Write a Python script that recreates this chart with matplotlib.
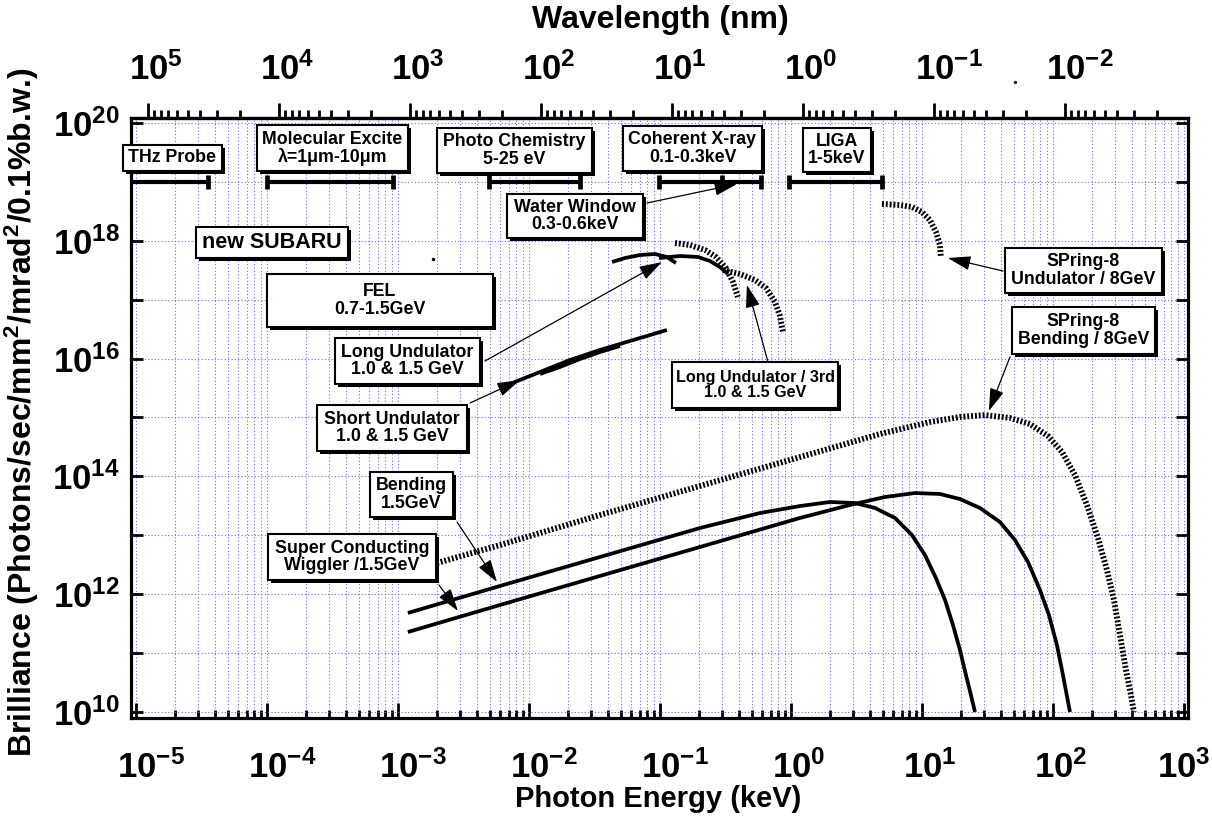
import matplotlib
matplotlib.use('Agg')
import matplotlib.pyplot as plt
from matplotlib.patches import Rectangle
from matplotlib.ticker import FixedLocator, NullLocator, NullFormatter, LogLocator
from matplotlib.transforms import ScaledTranslation

plt.rcParams['font.family'] = ['Liberation Sans', 'DejaVu Sans']
plt.rcParams['font.weight'] = 'bold'
plt.rcParams['mathtext.fontset'] = 'custom'
plt.rcParams['mathtext.rm'] = 'Liberation Sans:bold'
plt.rcParams['mathtext.bf'] = 'Liberation Sans:bold'
plt.rcParams['mathtext.it'] = 'Liberation Sans:bold'
plt.rcParams['mathtext.sf'] = 'Liberation Sans:bold'
plt.rcParams['mathtext.default'] = 'rm'

# ---------------- data (photon energy keV, brilliance) ----------------
bend_E = [1.19e-3, 6.01e-3, 3.48e-2, 0.202, 0.580, 1.172, 1.99, 3.08, 4.38, 6.22, 8.39,
          10.54, 12.79, 15.0, 17.25, 19.5, 21.67, 23.66, 25.4]
bend_B = [4.8e11, 1.38e12, 4.28e12, 1.33e13, 2.39e13, 3.14e13, 3.68e13, 3.53e13, 2.91e13,
          1.97e13, 1.01e13, 4.63e12, 1.88e12, 7.98e11, 3.0e11, 1.13e11, 4.25e10, 1.94e10, 1.0e10]

wig_E = [1.19e-3, 6.01e-3, 3.48e-2, 0.202, 1.172, 2.82, 5.22, 8.85, 13.71, 19.5, 27.7, 39.4,
         51.3, 64.5, 79.6, 93.2, 107.3, 119.2, 134.9]
wig_B = [2.28e11, 6.56e11, 2.04e12, 6.33e12, 1.97e13, 3.27e13, 4.47e13, 5.22e13, 5.03e13,
         4.13e13, 2.91e13, 1.68e13, 8.32e12, 3.52e12, 1.18e12, 4.44e11, 1.37e11, 4.25e10, 1.0e10]

sp8b_E = [1.985e-3, 6.01e-3, 3.48e-2, 0.2018, 1.172, 4.78, 11.51, 19.5, 30.3, 46.97, 66.7,
          91.6, 117.2, 147.2, 181.7, 220.5, 258.4, 292.2, 324.7, 360.8, 393.9, 415]
sp8b_B = [3.39e12, 6.84e12, 2.21e13, 6.87e13, 2.13e14, 5.25e14, 8.39e14, 1.02e15, 1.10e15,
          9.81e14, 7.76e14, 4.85e14, 2.60e14, 1.06e14, 3.27e13, 9.0e12, 2.58e12, 7.98e11,
          2.03e11, 5.17e10, 1.94e10, 1.0e10]

sp8u_E = [4.95, 6.79, 8.39, 10.0, 11.51, 12.79, 13.71, 13.96]
sp8u_B = [4.22e18, 4.05e18, 3.75e18, 3.08e18, 2.25e18, 1.41e18, 8.49e17, 5.31e17]

lu1_E = [4.31e-2, 5.40e-2, 7.04e-2, 9.16e-2, 0.1129, 0.1325]
lu1_B = [4.37e17, 5.10e17, 5.74e17, 5.97e17, 5.31e17, 4.20e17]
lu2_E = [9.83e-2, 0.1422, 0.195, 0.2408, 0.2871, 0.3305]
lu2_B = [5.10e17, 5.52e17, 5.31e17, 4.54e17, 3.59e17, 2.73e17]

lu3a_E = [0.1303, 0.1694, 0.2206, 0.2677, 0.319, 0.3606, 0.3934]
lu3a_B = [9.18e17, 8.49e17, 6.98e17, 5.31e17, 3.45e17, 2.0e17, 1.11e17]
lu3b_E = [0.3027, 0.408, 0.531, 0.6445, 0.755, 0.824, 0.869]
lu3b_B = [3.19e17, 2.73e17, 2.16e17, 1.58e17, 9.14e16, 5.29e16, 2.83e16]

sua_E = [7.16e-3, 1.213e-2, 2.056e-2, 3.48e-2, 5.90e-2, 0.1129]
sua_B = [3.71e15, 5.92e15, 9.47e15, 1.40e16, 1.99e16, 3.06e16]
sub_E = [1.213e-2, 1.726e-2, 2.449e-2, 3.48e-2, 4.95e-2]
sub_B = [5.48e15, 7.20e15, 9.85e15, 1.29e16, 1.64e16]

# application ranges (keV) drawn at one brilliance level
range_level = 1e19
thz_range = [9.0e-6, 3.55e-5]
mol_range = [1.0e-4, 9.2e-4]
chem_range = [4.95e-3, 2.45e-2]
cxr_range = [9.8e-2, 0.30, 0.59]
liga_range = [0.97, 4.95]

dot_E = [1.85e-3]
dot_B = [4.9e17]

energy_ticks = [1e-5, 1e-4, 1e-3, 1e-2, 1e-1, 1e0, 1e1, 1e2, 1e3]
energy_labels = ['$10^{-5}$', '$10^{-4}$', '$10^{-3}$', '$10^{-2}$', '$10^{-1}$',
                 '$10^{0}$', '$10^{1}$', '$10^{2}$', '$10^{3}$']
wl_ticks = [1e5, 1e4, 1e3, 1e2, 1e1, 1e0, 1e-1, 1e-2]
wl_labels = ['$10^{5}$', '$10^{4}$', '$10^{3}$', '$10^{2}$', '$10^{1}$',
             '$10^{0}$', '$10^{-1}$', '$10^{-2}$']
bril_ticks = [1e10, 1e11, 1e12, 1e13, 1e14, 1e15, 1e16, 1e17, 1e18, 1e19, 1e20]
bril_labels = ['$10^{10}$', '', '$10^{12}$', '', '$10^{14}$', '', '$10^{16}$', '',
               '$10^{18}$', '', '$10^{20}$']

HC = 1.2398  # keV*nm

# ---------------- figure ----------------
W, H = 1212, 816
fig = plt.figure(figsize=(W / 100, H / 100), dpi=100)
AX_L, AX_R, AX_T, AX_B = 131, 1188, 118, 718
ax = fig.add_axes([AX_L / W, 1 - AX_B / H, (AX_R - AX_L) / W, (AX_B - AX_T) / H])
ax.set_xscale('log')
ax.set_yscale('log')
ax.set_xlim(10 ** -5.038, 10 ** 3.031)
ax.set_ylim(10 ** 9.898, 10 ** 20.085)

def fx(px):
    return (px - AX_L) / (AX_R - AX_L)

def fy(py):
    return (AX_B - py) / (AX_B - AX_T)

gridc = (0.42, 0.42, 1.0)
ax.xaxis.set_major_locator(FixedLocator(energy_ticks))
ax.set_xticklabels(energy_labels)
ax.xaxis.set_minor_locator(LogLocator(base=10, subs=[2, 3, 4, 5, 6, 7, 8, 9], numticks=30))
ax.xaxis.set_minor_formatter(NullFormatter())
ax.yaxis.set_major_locator(FixedLocator(bril_ticks))
ax.set_yticklabels(bril_labels)
ax.yaxis.set_minor_locator(NullLocator())
ax.grid(which='major', axis='both', color=gridc, linestyle=(0, (1, 2)), linewidth=0.8)
ax.grid(which='minor', axis='x', color=gridc, linestyle=(0, (1, 2)), linewidth=0.8)
ax.set_axisbelow(True)

ax.tick_params(axis='x', which='major', direction='in', length=10.5, width=2.0,
               top=False, bottom=True, labelsize=25, pad=23)
ax.tick_params(axis='x', which='minor', direction='in', length=5.5, width=2.0,
               top=False, bottom=True)
ax.tick_params(axis='y', which='major', direction='in', length=8.5, width=2.0,
               left=True, right=True, labelsize=25, pad=8)
for s in ax.spines.values():
    s.set_linewidth(2.3)

# tick labels: the "10" is centred on the tick, the exponent hangs to the right
half_ten = ScaledTranslation(-0.193, 0, fig.dpi_scale_trans)
xlabs = ax.get_xticklabels()
for lab in xlabs[:-1]:
    lab.set_horizontalalignment('left')
    lab.set_transform(lab.get_transform() + half_ten)

sec = ax.secondary_xaxis('top', functions=(lambda e: HC / e, lambda l: HC / l))
sec.xaxis.set_major_locator(FixedLocator(wl_ticks))
sec.set_xticklabels(wl_labels)
sec.xaxis.set_minor_locator(LogLocator(base=10, subs=[2, 3, 4, 5, 6, 7, 8, 9], numticks=30))
sec.xaxis.set_minor_formatter(NullFormatter())
sec.tick_params(axis='x', which='major', direction='out', length=10.5, width=2.0,
                labelsize=25, pad=12)
sec.tick_params(axis='x', which='minor', direction='out', length=5.5, width=2.0)
sec.spines['top'].set_linewidth(2.3)
for lab in sec.get_xticklabels():
    lab.set_horizontalalignment('left')
    lab.set_transform(lab.get_transform() + half_ten)

# ---------------- curves ----------------
solid = dict(color='black', lw=2.7, solid_capstyle='butt', solid_joinstyle='round', zorder=3)
hatch = dict(color='black', lw=4.2, linestyle=(0, (0.33, 0.33)), dash_capstyle='butt', zorder=3)

ax.plot(bend_E, bend_B, **solid)
ax.plot(wig_E, wig_B, **solid)
ax.plot(sp8b_E, sp8b_B, **hatch)
ax.plot(sp8u_E, sp8u_B, **hatch)
ax.plot(lu1_E, lu1_B, **solid)
ax.plot(lu2_E, lu2_B, **solid)
ax.plot(lu3a_E, lu3a_B, **hatch)
ax.plot(lu3b_E, lu3b_B, **hatch)
ax.plot(sua_E, sua_B, **solid)
ax.plot(sub_E, sub_B, **solid)
ax.plot(dot_E, dot_B, 'k.', ms=3, zorder=3)

# application range bars
def range_bar(r, left_cap=True):
    ax.plot([r[0], r[-1]], [range_level] * 2, color='black', lw=3.0, zorder=3,
            solid_capstyle='butt')
    caps = list(r) if left_cap else list(r[1:])
    ax.plot(caps, [range_level] * len(caps), linestyle='none', marker='|',
            ms=10, mew=3.4, color='black', zorder=3)

range_bar(thz_range, left_cap=False)
range_bar(mol_range)
range_bar(chem_range)
range_bar(cxr_range)
range_bar(liga_range)

# ---------------- labelled boxes ----------------
def box(x0, y0, x1, y1, text, fs=12.8):
    bx, by = fx(x0), fy(y1)
    bw, bh = fx(x1) - fx(x0), fy(y0) - fy(y1)
    sh_dx, sh_dy = 3 / (AX_R - AX_L), 3 / (AX_B - AX_T)
    ax.add_patch(Rectangle((bx + sh_dx, by - sh_dy), bw, bh, transform=ax.transAxes,
                           facecolor='black', edgecolor='none', zorder=5, clip_on=False))
    ax.add_patch(Rectangle((bx, by), bw, bh, transform=ax.transAxes,
                           facecolor='white', edgecolor='black', lw=1.5, zorder=6,
                           clip_on=False))
    ax.text(bx + bw / 2, by + bh / 2, text, transform=ax.transAxes, ha='center',
            va='center', fontsize=fs, fontweight='bold', linespacing=1.0, zorder=7)

box(123, 145, 222, 171, 'THz Probe')
box(257, 125, 408, 171, 'Molecular Excite\nλ=1μm-10μm')
box(437, 128, 592, 173, 'Photo Chemistry\n5-25 eV')
box(623, 126, 762, 171, 'Coherent X-ray\n0.1-0.3keV')
box(803, 128, 871, 172, 'LIGA\n1-5keV')
box(507, 194, 643, 238, 'Water Window\n0.3-0.6keV')
box(196, 227, 348, 258, 'new SUBARU', fs=15.5)
box(267, 274, 493, 327, 'FEL\n0.7-1.5GeV')
box(335, 338, 480, 384, 'Long Undulator\n1.0 & 1.5 GeV')
box(317, 405, 467, 451, 'Short Undulator\n1.0 & 1.5 GeV')
box(370, 472, 453, 517, 'Bending\n1.5GeV')
box(268, 534, 436, 580, 'Super Conducting\nWiggler /1.5GeV')
box(672, 362, 838, 408, 'Long Undulator / 3rd\n1.0 & 1.5 GeV', fs=11.6)
box(1005, 248, 1162, 293, 'SPring-8\nUndulator / 8GeV')
box(1012, 307, 1155, 354, 'SPring-8\nBending / 8GeV')

# ---------------- arrows ----------------
arrow_tips = {
    'water': (0.387, 9.2e18),
    'long': (0.1035, 4.36e17),
    'short': (8.5e-3, 4.3e15),
    'lu3': (0.461, 1.78e17),
    'sp8u': (15.8, 5.1e17),
    'sp8b': (32.4, 1.29e15),
    'bend': (5.7e-3, 1.61e12),
    'wig': (2.87e-3, 5.2e11),
}
arrow_tails = {
    'water': (647, 203), 'long': (485, 361), 'short': (470, 403), 'lu3': (768, 362),
    'sp8u': (1003, 271), 'sp8b': (1010, 357), 'bend': (457, 522), 'wig': (439, 585),
}
for k, tip in arrow_tips.items():
    tx, ty = arrow_tails[k]
    ax.annotate('', xy=tip, xycoords='data', xytext=(fx(tx), fy(ty)),
                textcoords='axes fraction',
                arrowprops=dict(arrowstyle='-|>,head_length=0.7,head_width=0.22',
                                color='black', lw=0.9, mutation_scale=20,
                                shrinkA=0, shrinkB=0),
                zorder=8)

ax.plot([fx(1015)], [fy(82)], 'k.', ms=2.5, transform=ax.transAxes, clip_on=False)

# ---------------- axis titles ----------------
fig.text(658 / W, 1 - 799 / H, 'Photon Energy (keV)', ha='center', va='center',
         fontsize=21, fontweight='bold')
fig.text(660 / W, 1 - 20 / H, 'Wavelength (nm)', ha='center', va='center',
         fontsize=23, fontweight='bold')
fig.text(22 / W, 1 - 412 / H, 'Brilliance (Photons/sec/mm$^{2}$/mrad$^{2}$/0.1%b.w.)',
         ha='center', va='center', rotation=90, fontsize=23, fontweight='bold')

fig.savefig('out.png', dpi=100)
